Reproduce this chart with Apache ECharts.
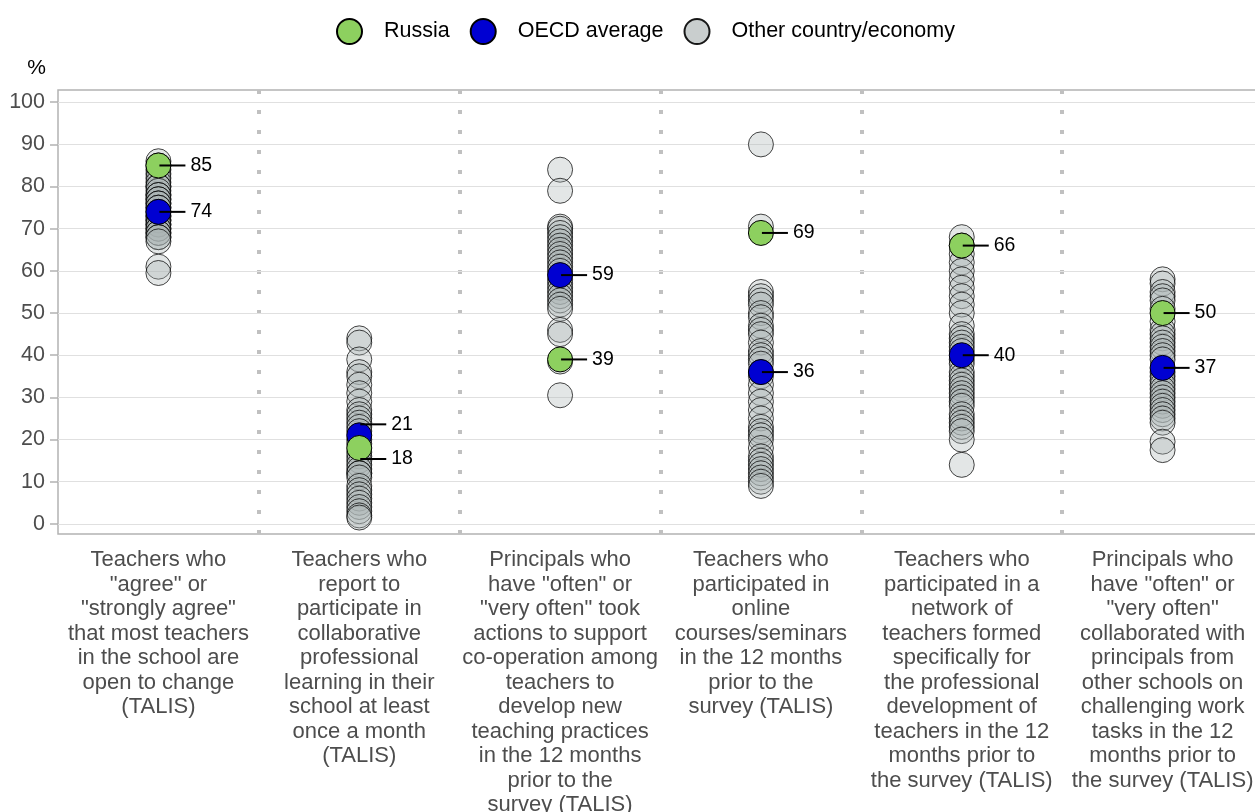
<!DOCTYPE html>
<html>
<head>
<meta charset="utf-8">
<script src="https://cdn.jsdelivr.net/npm/echarts@6/dist/echarts.min.js"></script>
<style>
  html, body { margin: 0; padding: 0; background: #fff; }
  #chart { width: 1255px; height: 812px; }
</style>
</head>
<body>
<div id="chart"></div>
<script>
const categories = [
  'Teachers who\n"agree" or\n"strongly agree"\nthat most teachers\nin the school are\nopen to change\n(TALIS)',
  'Teachers who\nreport to\nparticipate in\ncollaborative\nprofessional\nlearning in their\nschool at least\nonce a month\n(TALIS)',
  'Principals who\nhave "often" or\n"very often" took\nactions to support\nco-operation among\nteachers to\ndevelop new\nteaching practices\nin the 12 months\nprior to the\nsurvey (TALIS)',
  'Teachers who\nparticipated in\nonline\ncourses/seminars\nin the 12 months\nprior to the\nsurvey (TALIS)',
  'Teachers who\nparticipated in a\nnetwork of\nteachers formed\nspecifically for\nthe professional\ndevelopment of\nteachers in the 12\nmonths prior to\nthe survey (TALIS)',
  'Principals who\nhave "often" or\n"very often"\ncollaborated with\nprincipals from\nother schools on\nchallenging work\ntasks in the 12\nmonths prior to\nthe survey (TALIS)'
]

// one list per indicator: other countries / economies
const otherValues = [
  [86, 85, 84, 83, 82, 81, 80, 80, 79, 78, 78, 77, 77, 76, 76, 75, 75, 74, 73, 73, 72, 72, 71, 71, 70, 70, 69, 69, 68, 68, 67, 61, 59.5],
  [44, 43, 39, 36, 35, 33, 31, 29, 27, 26, 25, 24, 23, 22, 20, 19, 17, 16, 15, 14, 13, 12, 12, 11, 9, 8, 7, 6, 5, 4, 3, 2, 1.5],
  [84, 79, 70.5, 70, 69, 68, 67, 66, 65, 64, 63, 62, 61, 60, 58, 57, 56, 55, 54, 53, 52, 51, 46, 45, 38.5, 30.5],
  [90, 70.5, 55, 54, 53, 52, 50, 49, 47, 46, 45, 43, 41, 40, 39, 38, 36, 35, 33, 31, 29, 27, 25, 23, 22, 21, 20, 18, 16, 15, 14, 13, 12, 11, 10, 9],
  [68, 66, 64, 62, 60, 58, 56, 54, 52, 50, 47, 45, 44, 43, 42, 41, 39, 38, 36, 35, 34, 33, 32, 31, 30, 29, 28, 26, 25, 24, 23, 22, 20, 14],
  [58, 57, 55, 54, 53, 51, 48, 46, 45, 44, 43, 42, 41, 40, 39, 36, 35, 34, 33, 32, 31, 30, 29, 28, 27, 26, 25, 24, 19.5, 17.5]
]
const russiaValues = [85, 18, 39, 69, 66, 50]
const oecdValues = [74, 21, 59, 36, 40, 37]
const yTicks = [0, 10, 20, 30, 40, 50, 60, 70, 80, 90, 100]

const chart = echarts.init(document.getElementById('chart'), null, { renderer: 'canvas' })

const FONT = '"Liberation Sans", Arial, sans-serif'

// label: short black leader line then the value
const valueLabel = {
  show: true,
  position: 'right',
  distance: -12,
  formatter: p => '{ln|}{t|' + Math.round(p.value[1]) + '}',
  rich: {
    ln: { width: 26, height: 2, backgroundColor: '#000' },
    t: { fontSize: 19.5, color: '#000', fontFamily: FONT, padding: [0, 0, 0, 5] }
  }
}

const otherData = []
otherValues.forEach((list, i) => list.forEach(v => otherData.push([i, v])))

// second column labels are nudged apart so they don't collide
const russiaData = russiaValues.map((v, i) => i === 1 ? { value: [i, v], label: { offset: [0, 11] } } : [i, v])
const oecdData = oecdValues.map((v, i) => i === 1 ? { value: [i, v], label: { offset: [0, -11] } } : [i, v])

const option = {
  animation: false,
  textStyle: { fontFamily: FONT },
  legend: {
    top: 13,
    left: 331,
    itemWidth: 25,
    itemHeight: 25,
    itemGap: 20,
    icon: 'circle',
    textStyle: { fontSize: 21.5, color: '#000', fontFamily: FONT, padding: [0, 0, 0, 17] },
    data: [
      { name: 'Russia' },
      { name: 'OECD average' },
      { name: 'Other country/economy', itemStyle: { color: '#c9cece', opacity: 1 } }
    ]
  },
  grid: {
    left: 58,
    width: 1205,
    top: 90,
    bottom: 278,
    outerBoundsMode: 'none',
    show: true,
    borderColor: '#b3b3b3',
    borderWidth: 1.5
  },
  xAxis: {
    type: 'category',
    data: categories,
    axisLine: { show: false },
    axisTick: { show: false },
    axisLabel: {
      interval: 0,
      margin: 14,
      fontSize: 22,
      lineHeight: 24.5,
      color: '#4d4d4d',
      fontFamily: FONT,
      align: 'center'
    },
    splitLine: {
      show: true,
      showMinLine: false,
      showMaxLine: false,
      lineStyle: { color: '#c0c0c0', width: 4, type: [4, 16] }
    }
  },
  yAxis: {
    type: 'value',
    min: -2.4,
    max: 102.9,
    name: '%',
    nameLocation: 'end',
    nameGap: 11,
    nameTextStyle: { fontSize: 21, color: '#000', fontFamily: FONT, align: 'right', padding: [0, 12, 0, 0] },
    axisLine: { show: false },
    axisTick: {
      show: true,
      length: 8,
      customValues: yTicks,
      lineStyle: { color: '#b3b3b3', width: 1.5 }
    },
    axisLabel: {
      customValues: yTicks,
      margin: 13,
      fontSize: 21.5,
      color: '#4d4d4d',
      fontFamily: FONT
    },
    splitLine: { show: false }
  },
  series: [
    {
      // horizontal gridlines
      type: 'line',
      data: [],
      silent: true,
      z: 1,
      markLine: {
        z: 1,
        silent: true,
        symbol: 'none',
        label: { show: false },
        lineStyle: { color: '#e0e0e0', width: 1.2, type: 'solid' },
        data: yTicks.map(v => ({ yAxis: v }))
      }
    },
    {
      name: 'Other country/economy',
      type: 'scatter',
      z: 3,
      clip: false,
      symbolSize: 25,
      itemStyle: { color: 'rgba(172,182,182,0.42)', borderColor: 'rgba(0,0,0,0.9)', borderWidth: 1 },
      data: otherData
    },
    {
      name: 'OECD average',
      type: 'scatter',
      z: 4,
      clip: false,
      symbolSize: 25,
      itemStyle: { color: '#0000d2', borderColor: '#000', borderWidth: 1, opacity: 1 },
      label: valueLabel,
      data: oecdData
    },
    {
      name: 'Russia',
      type: 'scatter',
      z: 5,
      clip: false,
      symbolSize: 25,
      itemStyle: { color: '#8dd05f', borderColor: '#000', borderWidth: 1, opacity: 1 },
      label: valueLabel,
      data: russiaData
    }
  ]
}

chart.setOption(option)
</script>
</body>
</html>
